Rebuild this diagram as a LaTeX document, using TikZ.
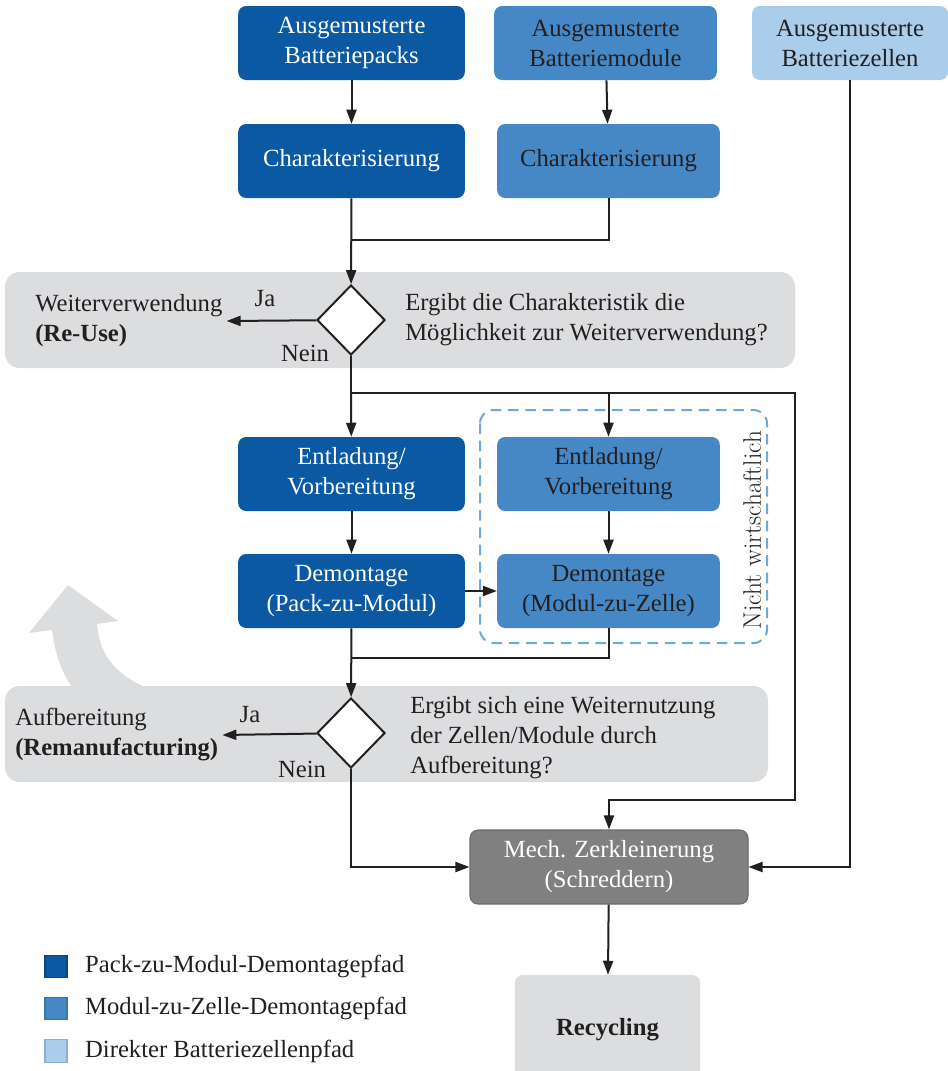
\documentclass[tikz,border=0pt]{standalone}
\usepackage{fontspec}
\newfontfamily\tnr{Liberation Serif}
\usetikzlibrary{arrows.meta,positioning,shapes.geometric}
\definecolor{PackBlue}{HTML}{0B59A3}
\definecolor{ModulBlue}{HTML}{4688C6}
\definecolor{CellBlue}{HTML}{A9CDEB}
\definecolor{BandGray}{HTML}{DCDDDF}
\definecolor{ShredGray}{HTML}{808080}
\definecolor{DashBlue}{HTML}{6FA8DC}
\definecolor{InkBlack}{HTML}{231F20}

\begin{document}
\begin{tikzpicture}[
    x=0.75pt,y=-0.75pt,
    every node/.style={font=\tnr\fontsize{18.5}{22.5}\selectfont,text=InkBlack},
    box/.style={rounded corners=6pt,minimum height=55.5pt,align=center,inner sep=2pt},
    packbox/.style={box,fill=PackBlue,text=white,minimum width=170pt},
    modulbox/.style={box,fill=ModulBlue,minimum width=167pt},
    cellbox/.style={box,fill=CellBlue,minimum width=147pt},
    ask/.style={diamond,draw=InkBlack,line width=1.5pt,fill=white,
      minimum width=51pt,minimum height=52.5pt,inner sep=0pt},
    band/.style={fill=BandGray,rounded corners=11pt},
    txt/.style={align=left,inner sep=0pt},
    line/.style={draw=InkBlack,line width=1.5pt},
    arr/.style={line,-{Triangle[length=10.5pt,width=7.5pt]}},
    legbox/.style={minimum width=16.5pt,minimum height=17pt,inner sep=0pt,line width=0.8pt}
  ]
    \useasboundingbox (0,0) rectangle (948,1071);
    \clip (0,0) rectangle (948,1071);

    % grey decision bands and the return arrow
    \fill[band] (5,272) rectangle (795,368);
    \fill[BandGray] (52,630) .. controls (56,660) and (64,678) .. (78,695)
      -- (165,695) .. controls (120,680) and (100,660) .. (97,624)
      -- (118,621) -- (68,585) -- (29,633) -- cycle;
    \fill[band] (5,686) rectangle (768,782);
    \draw[DashBlue,line width=1.5pt,dash pattern=on 8pt off 5pt,rounded corners=10pt]
      (480,410) rectangle (767,643);

    % inputs
    \node[packbox] (pack) at (351.5,43) {Ausgemusterte\\Batteriepacks};
    \node[modulbox] (modul) at (605.5,43) {Ausgemusterte\\Batteriemodule};
    \node[cellbox] (zelle) at (850,43) {Ausgemusterte\\Batteriezellen};
    \node[packbox] (char1) at (351.5,161) {Charakterisierung};
    \node[modulbox] (char2) at (608.5,161) {Charakterisierung};

    % first decision
    \node[ask] (q1) at (351,320) {};
    \node[txt,inner xsep=3pt,anchor=west] (reuse) at (31,321) {Weiterverwendung\\\textbf{(Re-Use)}};
    \node[txt,anchor=west] (q1text) at (405,320) {Ergibt die Charakteristik die\\M\"oglichkeit zur Weiterverwendung?};
    \node (ja1) at (265,299) {Ja};
    \node (nein1) at (305,353) {Nein};

    % disassembly
    \node[packbox] (ent1) at (351.5,474) {Entladung/\\Vorbereitung};
    \node[modulbox] (ent2) at (608.5,474) {Entladung/\\Vorbereitung};
    \node[packbox] (dem1) at (351.5,591) {Demontage\\(Pack-zu-Modul)};
    \node[modulbox] (dem2) at (608.5,591) {Demontage\\(Modul-zu-Zelle)};
    \node[rotate=90,font=\rmfamily\fontsize{19}{22}\selectfont] (nw) at (752,530) {Nicht wirtschaftlich};

    % second decision
    \node[ask] (q2) at (351,733) {};
    \node[txt,inner xsep=3pt,anchor=west] (reman) at (11,735) {Aufbereitung\\\textbf{(Remanufacturing)}};
    \node[txt,anchor=west] (q2text) at (410,738) {Ergibt sich eine Weiternutzung\\der Zellen/Module durch\\Aufbereitung?};
    \node (ja2) at (250,715) {Ja};
    \node (nein2) at (302,769) {Nein};

    % end of chain
    \node[box,fill=ShredGray,draw=ShredGray!85!black,line width=0.8pt,text=white,
      minimum width=208.5pt] (shred) at (609,867) {Mech. Zerkleinerung\\(Schreddern)};
    \node[box,fill=BandGray,minimum width=139pt,minimum height=82.5pt] (recyc) at (607.5,1030) {\textbf{Recycling}};

    % legend
    \node[legbox,fill=PackBlue,draw=PackBlue!80!black] (leg1) at (56,966.5) {};
    \node[legbox,fill=ModulBlue,draw=ModulBlue!85!black] (leg2) at (56,1008.5) {};
    \node[legbox,fill=CellBlue,draw=CellBlue!85!black] (leg3) at (56,1051) {};
    \node[txt,right=13pt of leg1] (leg1text) {Pack-zu-Modul-Demontagepfad};
    \node[txt,right=13pt of leg2] (leg2text) {Modul-zu-Zelle-Demontagepfad};
    \node[txt,right=13pt of leg3] (leg3text) {Direkter Batteriezellenpfad};

    % connectors
    \coordinate (m1) at (351,240);
    \coordinate (m2) at (351,393);
    \coordinate (r1) at (795,393);
    \coordinate (r2) at (795,800);
    \coordinate (m3) at (351,658);
    \draw[arr] (pack) -- (char1);
    \draw[arr] (modul) -- (char2);
    \draw[arr] (char1) -- (q1);
    \draw[line] (char2.south) |- (m1);
    \draw[arr] (q1) -- (reuse.east);
    \draw[line] (q1) -- (m2);
    \draw[arr] (m2) -- (ent1);
    \draw[arr] (m2) -| (ent2);
    \draw[arr] (m2) -- (r1) -- (r2) -| (shred);
    \draw[arr] (ent1) -- (dem1);
    \draw[arr] (ent2) -- (dem2);
    \draw[arr] (dem1) -- (dem2);
    \draw[arr] (dem1) -- (q2);
    \draw[line] (dem2.south) |- (m3);
    \draw[arr] (q2) -- (reman.east);
    \draw[arr] (q2) |- (shred);
    \draw[arr] (zelle) |- (shred);
    \draw[arr] (shred) -- (recyc);
  \end{tikzpicture}
\end{document}
